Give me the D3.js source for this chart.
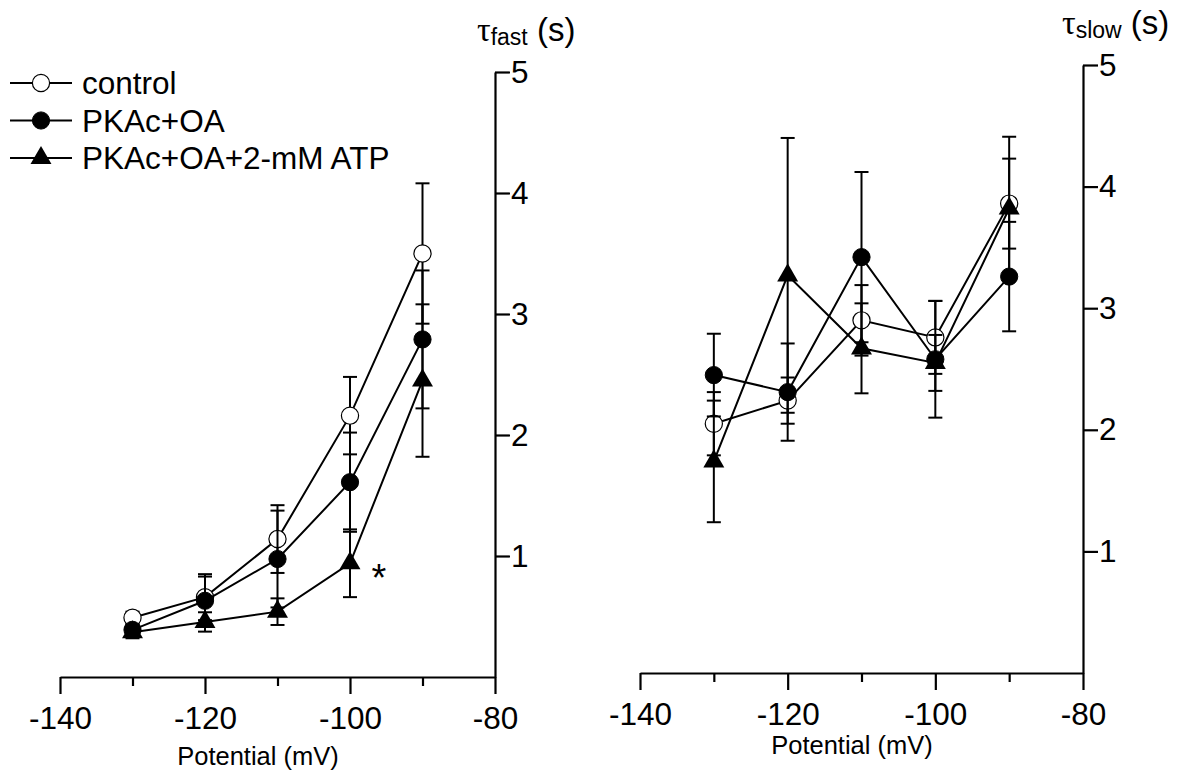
<!DOCTYPE html>
<html lang="en">
<head>
  <meta charset="UTF-8" />
  <title>tau fast / tau slow</title>
  <style>
    body { margin: 0; background: #fff; }
    svg { display: block; font-family: "Liberation Sans", Arial, sans-serif; }
  </style>
</head>
<body>
  <div id="chart"></div>

  <script src="https://cdnjs.cloudflare.com/ajax/libs/d3/7.8.4/d3.min.js"></script>
  <script>
    // data
    const potentials = [-130, -120, -110, -100, -90];
    const xTicks = [-140, -130, -120, -110, -100, -90, -80];
    const yTicks = [1, 2, 3, 4, 5];
    const seriesNames = ["control", "PKAc+OA", "PKAc+OA+2-mM ATP"];

    const fastControl = [0.49, 0.66, 1.14, 2.16, 3.50];
    const fastControlErr = [0.05, 0.19, 0.28, 0.32, 0.58];
    const fastPka = [0.39, 0.63, 0.975, 1.61, 2.79];
    const fastPkaErr = [0.04, 0.20, 0.40, 0.41, 0.57];
    const fastAtp = [0.37, 0.455, 0.54, 0.94, 2.45];
    const fastAtpErr = [0.05, 0.08, 0.11, 0.28, 0.63];

    const slowControl = [2.05, 2.24, 2.90, 2.76, 3.86];
    const slowControlErr = [0.26, 0.19, 0.29, 0.30, 0.37];
    const slowPka = [2.45, 2.31, 3.42, 2.58, 3.26];
    const slowPkaErr = [0.34, 0.40, 0.70, 0.48, 0.45];
    const slowAtp = [1.74, 3.27, 2.67, 2.55, 3.82];
    const slowAtpErr = [0.50, 1.13, 0.37, 0.23, 0.59];

    const width = 1179, height = 774;
    const svg = d3.select("#chart").append("svg").attr("width", width).attr("height", height);

    const markerKind = ["open", "filled", "triangle"];
    const labelSize = 31.5;

    function drawMarker(g, kind, x, y) {
      if (kind === "triangle") {
        g.append("path")
          .attr("d", d3.symbol(d3.symbolTriangle, 190)())
          .attr("transform", `translate(${x},${y})`)
          .attr("fill", "#000");
      } else {
        g.append("circle")
          .attr("cx", x).attr("cy", y).attr("r", 8.6)
          .attr("fill", kind === "open" ? "#fff" : "#000")
          .attr("stroke", "#000")
          .attr("stroke-width", kind === "open" ? 1.2 : 1);
      }
    }

    function panel(opts) {
      const x = d3.scaleLinear().domain([-140, -80]).range(opts.xr);
      const y = d3.scaleLinear().domain([0, 5]).range(opts.yr);
      const g = svg.append("g");

      // x axis
      const xa = g.append("g")
        .attr("transform", `translate(0,${opts.yr[0]})`)
        .call(d3.axisBottom(x).tickValues(xTicks).tickSize(16).tickSizeOuter(0).tickPadding(14)
          .tickFormat(d => d % 20 === 0 ? String(d) : ""));
      xa.selectAll(".tick line").attr("y2", d => d % 20 === 0 ? 17 : 9);
      xa.selectAll("text").attr("font-size", labelSize).attr("font-family", "Liberation Sans, Arial, sans-serif");

      // y axis on the right
      const ya = g.append("g")
        .attr("transform", `translate(${opts.xr[1]},0)`)
        .call(d3.axisRight(y).tickValues(yTicks).tickSize(15).tickSizeOuter(0).tickPadding(1)
          .tickFormat(d => String(d)));
      ya.selectAll("text").attr("font-size", labelSize).attr("font-family", "Liberation Sans, Arial, sans-serif");
      g.selectAll(".domain, .tick line").attr("stroke", "#000").attr("stroke-width", 2.2);

      // x label
      g.append("text")
        .attr("x", opts.xLabel[0]).attr("y", opts.xLabel[1])
        .attr("text-anchor", "middle").attr("font-size", 25.5)
        .text("Potential (mV)");

      // y label (tau with subscript)
      const t = g.append("text").attr("x", opts.yLabel[0]).attr("y", opts.yLabel[1]);
      t.append("tspan").attr("font-family", "Liberation Serif, serif").attr("font-size", 34).text("τ");
      t.append("tspan").attr("font-size", 23).attr("dy", 4).text(opts.sub);
      t.append("tspan").attr("dy", -4).attr("font-size", 33).text(" (s)");

      // series: line, error bars, markers (control first)
      opts.series.forEach((s, i) => {
        const pts = potentials.map((p, j) => ({ p, v: s.vals[j], e: s.errs[j] }));
        g.append("path")
          .datum(pts)
          .attr("fill", "none").attr("stroke", "#000").attr("stroke-width", 2)
          .attr("d", d3.line().x(d => x(d.p)).y(d => y(d.v)));
        pts.forEach(d => {
          const cx = x(d.p);
          g.append("line").attr("x1", cx).attr("x2", cx)
            .attr("y1", y(d.v + d.e)).attr("y2", y(d.v - d.e))
            .attr("stroke", "#000").attr("stroke-width", 2);
          [d.v + d.e, d.v - d.e].forEach(v => {
            g.append("line").attr("x1", cx - 7).attr("x2", cx + 7)
              .attr("y1", y(v)).attr("y2", y(v))
              .attr("stroke", "#000").attr("stroke-width", 2);
          });
        });
        pts.forEach(d => drawMarker(g, markerKind[i], x(d.p), y(d.v)));
      });
      return { x, y, g };
    }

    const left = panel({
      xr: [60, 495], yr: [677, 72], xLabel: [258, 765], yLabel: [477, 41], sub: "fast",
      series: [
        { vals: fastControl, errs: fastControlErr },
        { vals: fastPka, errs: fastPkaErr },
        { vals: fastAtp, errs: fastAtpErr }
      ]
    });

    panel({
      xr: [640, 1083], yr: [673, 65], xLabel: [852, 754], yLabel: [1062, 34], sub: "slow",
      series: [
        { vals: slowControl, errs: slowControlErr },
        { vals: slowPka, errs: slowPkaErr },
        { vals: slowAtp, errs: slowAtpErr }
      ]
    });

    // significance mark
    left.g.append("text")
      .attr("x", left.x(-96)).attr("y", left.y(fastAtp[3]) + 28)
      .attr("text-anchor", "middle").attr("font-size", 38)
      .text("*");

    // legend
    const legend = svg.append("g");
    seriesNames.forEach((name, i) => {
      const ly = 83 + i * 37.5;
      legend.append("line").attr("x1", 10).attr("x2", 72).attr("y1", ly).attr("y2", ly)
        .attr("stroke", "#000").attr("stroke-width", 2);
      drawMarker(legend, markerKind[i], 41, ly);
      legend.append("text").attr("x", 82).attr("y", ly + 11)
        .attr("font-size", labelSize).text(name);
    });
  </script>
</body>
</html>
